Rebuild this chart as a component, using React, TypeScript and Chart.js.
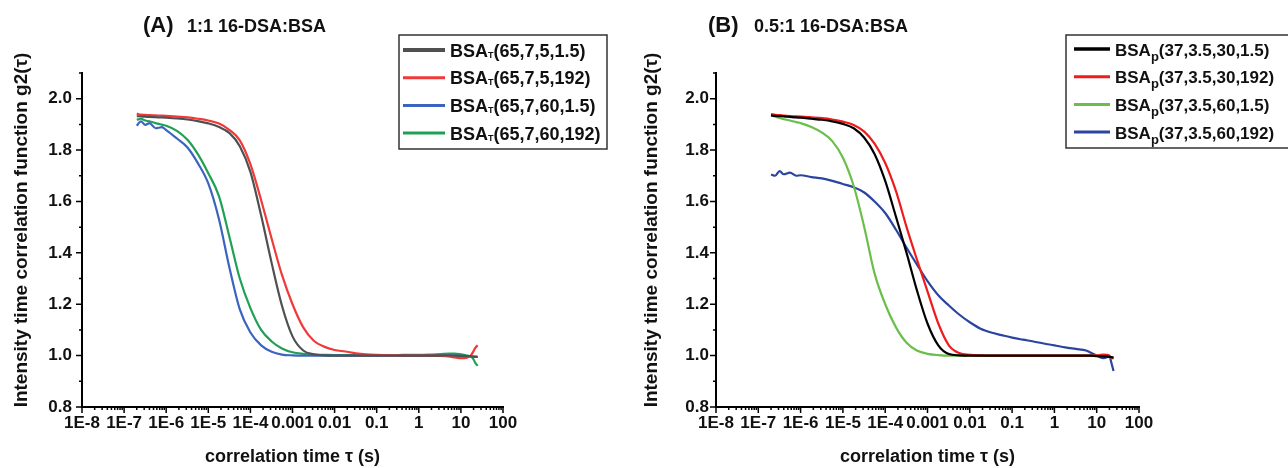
import React, { useEffect, useRef } from 'react';
import { Chart, registerables } from 'chart.js';

Chart.register(...registerables);

const FONT = '"Liberation Sans", Arial, Helvetica, sans-serif';

// correlation time τ (s) sample grid shared by all curves
const TAU = [
  2e-7, 2.5e-7, 3.2e-7, 4e-7, 5.6e-7, 7.9e-7, 1e-6, 1.8e-6, 3.2e-6, 5.6e-6,
  1e-5, 1.8e-5, 3.2e-5, 5.6e-5, 1e-4, 1.8e-4, 3.2e-4, 5.6e-4, 1e-3, 1.8e-3,
  3.2e-3, 5.6e-3, 0.01, 0.018, 0.032, 0.056, 0.1, 0.18, 0.32, 0.56,
  1, 1.8, 3.2, 5.6, 7.1, 10, 14, 18, 20, 22, 25,
];

// Panel A: 1:1 16-DSA:BSA
const A_LABELS = ['(65,7,5,1.5)', '(65,7,5,192)', '(65,7,60,1.5)', '(65,7,60,192)'];
const A_BLACK = [
  1.932, 1.931, 1.930, 1.929, 1.928, 1.927, 1.926, 1.923, 1.919, 1.913,
  1.904, 1.890, 1.866, 1.815, 1.715, 1.545, 1.360, 1.195, 1.075, 1.020,
  1.005, 1.001, 1.000, 1.000, 1.000, 1.000, 1.000, 1.000, 1.000, 1.000,
  1.000, 1.000, 1.000, 1.001, 1.000, 0.999, 0.998, 0.997, 0.996, 0.996, 0.995,
];
const A_RED = [
  1.942, 1.938, 1.937, 1.936, 1.935, 1.934, 1.933, 1.930, 1.927, 1.922,
  1.915, 1.903, 1.878, 1.838, 1.745, 1.605, 1.455, 1.315, 1.200, 1.110,
  1.058, 1.035, 1.022, 1.016, 1.009, 1.005, 1.003, 1.002, 1.001, 1.000,
  1.000, 1.000, 0.999, 0.996, 0.993, 0.990, 0.992, 1.005, 1.018, 1.030, 1.040,
];
const A_BLUE = [
  1.895, 1.912, 1.898, 1.905, 1.885, 1.889, 1.878, 1.845, 1.810, 1.750,
  1.670, 1.530, 1.340, 1.180, 1.090, 1.040, 1.015, 1.004, 1.001, 1.000,
  1.000, 1.000, 1.000, 1.000, 1.000, 1.000, 1.000, 1.000, 1.000, 1.000,
  1.000, 1.000, 1.000, 1.000, 1.000, 0.999, 0.998, 0.997, 0.996, 0.995, 0.995,
];
const A_GREEN = [
  1.918, 1.922, 1.915, 1.912, 1.905, 1.899, 1.895, 1.875, 1.840, 1.785,
  1.710, 1.620, 1.460, 1.300, 1.185, 1.100, 1.055, 1.028, 1.013, 1.007,
  1.004, 1.003, 1.002, 1.002, 1.002, 1.002, 1.002, 1.002, 1.002, 1.003,
  1.003, 1.004, 1.006, 1.008, 1.008, 1.005, 1.000, 0.995, 0.985, 0.972, 0.960,
];

// Panel B: 0.5:1 16-DSA:BSA
const B_LABELS = ['(37,3.5,30,1.5)', '(37,3.5,30,192)', '(37,3.5,60,1.5)', '(37,3.5,60,192)'];
const B_BLACK = [
  1.935, 1.933, 1.932, 1.931, 1.929, 1.927, 1.926, 1.922, 1.918, 1.912,
  1.902, 1.885, 1.848, 1.785, 1.680, 1.540, 1.400, 1.255, 1.125, 1.040,
  1.006, 1.001, 1.000, 1.000, 1.000, 1.000, 1.000, 1.000, 1.000, 1.000,
  1.000, 1.000, 1.000, 1.000, 1.000, 0.998, 0.997, 0.996, 0.995, 0.994, 0.993,
];
const B_RED = [
  1.940, 1.937, 1.936, 1.934, 1.932, 1.931, 1.930, 1.927, 1.924, 1.919,
  1.911, 1.898, 1.872, 1.825, 1.750, 1.640, 1.500, 1.375, 1.250, 1.125,
  1.040, 1.010, 1.003, 1.001, 1.000, 1.000, 1.000, 1.000, 1.000, 1.000,
  1.000, 1.000, 1.000, 1.000, 1.000, 1.001, 1.004, 1.003, 0.998, 0.993, 0.990,
];
const B_GREEN = [
  1.935, 1.930, 1.925, 1.920, 1.915, 1.909, 1.905, 1.890, 1.868, 1.835,
  1.770, 1.660, 1.500, 1.320, 1.200, 1.110, 1.050, 1.020, 1.007, 1.002,
  1.000, 1.000, 1.000, 1.000, 1.000, 1.000, 1.000, 1.000, 1.000, 1.000,
  1.000, 1.000, 1.000, 1.000, 1.000, 1.000, 1.000, 1.000, 0.998, 0.993, 0.988,
];
const B_BLUE = [
  1.705, 1.700, 1.718, 1.706, 1.712, 1.700, 1.702, 1.695, 1.690, 1.680,
  1.668, 1.655, 1.635, 1.600, 1.555, 1.490, 1.420, 1.355, 1.290, 1.235,
  1.195, 1.160, 1.130, 1.105, 1.090, 1.080, 1.070, 1.062, 1.055, 1.047,
  1.040, 1.032, 1.026, 1.020, 1.012, 1.000, 0.990, 0.995, 1.000, 0.975, 0.940,
];

// axes
const X_TICKS = [1e-8, 1e-7, 1e-6, 1e-5, 1e-4, 1e-3, 0.01, 0.1, 1, 10, 100];
const X_TICK_LABELS = ['1E-8', '1E-7', '1E-6', '1E-5', '1E-4', '0.001', '0.01', '0.1', '1', '10', '100'];
const X_MINOR_FACTORS = [2, 3, 4, 5, 6, 7, 8, 9];
const Y_TICKS = [0.8, 1.0, 1.2, 1.4, 1.6, 1.8, 2.0];
const Y_TICK_LABELS = ['0.8', '1.0', '1.2', '1.4', '1.6', '1.8', '2.0'];
const Y_MINOR = [0.9, 1.1, 1.3, 1.5, 1.7, 1.9, 2.1];

const X_TITLE = 'correlation time τ (s)';
const Y_TITLE = 'Intensity time correlation function g2(τ)';

type Series = { label: string; values: number[]; color: string; legendWidth: number };
type PanelCfg = {
  key: string;
  canvasLeft: number;
  canvasWidth: number;
  yScaleWidth: number;
  padRight: number;
  yTickPad: number;
  yTitleX: number;
  yTitleY: number;
  tag: string;
  tagX: number;
  subtitle: string;
  subtitleX: number;
  sub: string;
  legend: {
    x: number; y: number; w: number; h: number;
    firstRow: number; rowGap: number;
    lineX1: number; lineX2: number; textX: number;
    font: number; subFont: number; subDy: number; baseDy: number;
  };
  series: Series[];
};

const PANELS: PanelCfg[] = [
  {
    key: 'A',
    canvasLeft: 0,
    canvasWidth: 640,
    yScaleWidth: 82,
    padRight: 137,
    yTickPad: 10,
    yTitleX: 22,
    yTitleY: 230,
    tag: '(A)',
    tagX: 143,
    subtitle: '1:1 16-DSA:BSA',
    subtitleX: 187,
    sub: 'T',
    legend: {
      x: 399, y: 35, w: 208, h: 114, firstRow: 50, rowGap: 27.7,
      lineX1: 403, lineX2: 445, textX: 450, font: 18, subFont: 9, subDy: 1, baseDy: 6.5,
    },
    series: [
      { label: A_LABELS[0], values: A_BLACK, color: '#505050', legendWidth: 4 },
      { label: A_LABELS[1], values: A_RED, color: '#f03a3a', legendWidth: 3 },
      { label: A_LABELS[2], values: A_BLUE, color: '#3b64c0', legendWidth: 3 },
      { label: A_LABELS[3], values: A_GREEN, color: '#20a055', legendWidth: 3 },
    ],
  },
  {
    key: 'B',
    canvasLeft: 640,
    canvasWidth: 648,
    yScaleWidth: 76,
    padRight: 149,
    yTickPad: 7,
    yTitleX: 12,
    yTitleY: 230,
    tag: '(B)',
    tagX: 68,
    subtitle: '0.5:1 16-DSA:BSA',
    subtitleX: 114,
    sub: 'p',
    legend: {
      x: 426, y: 35, w: 300, h: 113, firstRow: 49, rowGap: 27.7,
      lineX1: 434, lineX2: 470, textX: 475, font: 17, subFont: 13, subDy: 5, baseDy: 6.5,
    },
    series: [
      { label: B_LABELS[0], values: B_BLACK, color: '#000000', legendWidth: 3.5 },
      { label: B_LABELS[1], values: B_RED, color: '#ee1c1c', legendWidth: 3 },
      { label: B_LABELS[2], values: B_GREEN, color: '#6abf4b', legendWidth: 3 },
      { label: B_LABELS[3], values: B_BLUE, color: '#2b44a0', legendWidth: 3 },
    ],
  },
];

function makeOverlay(cfg: PanelCfg) {
  return {
    id: 'overlay' + cfg.key,
    afterDraw(chart: any) {
      const ctx: CanvasRenderingContext2D = chart.ctx;
      const xs = chart.scales.x;
      const ys = chart.scales.y;
      const { bottom, left } = chart.chartArea;
      ctx.save();
      // tick marks
      ctx.strokeStyle = '#000';
      ctx.lineWidth = 1.5;
      ctx.beginPath();
      X_TICKS.forEach((v, i) => {
        const p = xs.getPixelForValue(v);
        ctx.moveTo(p, bottom);
        ctx.lineTo(p, bottom + 6);
        if (i < X_TICKS.length - 1) {
          X_MINOR_FACTORS.forEach((m) => {
            const q = xs.getPixelForValue(v * m);
            ctx.moveTo(q, bottom);
            ctx.lineTo(q, bottom + 3);
          });
        }
      });
      Y_TICKS.forEach((v) => {
        const p = ys.getPixelForValue(v);
        ctx.moveTo(left, p);
        ctx.lineTo(left - 6, p);
      });
      Y_MINOR.forEach((v) => {
        const p = ys.getPixelForValue(v);
        ctx.moveTo(left, p);
        ctx.lineTo(left - 3, p);
      });
      ctx.stroke();

      // y-axis title (rotated)
      ctx.save();
      ctx.translate(cfg.yTitleX, cfg.yTitleY);
      ctx.rotate(-Math.PI / 2);
      ctx.fillStyle = '#111';
      ctx.textAlign = 'center';
      ctx.textBaseline = 'middle';
      ctx.font = `bold 19px ${FONT}`;
      ctx.fillText(Y_TITLE, 0, 0);
      ctx.restore();

      // panel title
      ctx.fillStyle = '#111';
      ctx.textAlign = 'left';
      ctx.textBaseline = 'alphabetic';
      ctx.font = `bold 22px ${FONT}`;
      ctx.fillText(cfg.tag, cfg.tagX, 32);
      ctx.font = `bold 18px ${FONT}`;
      ctx.fillText(cfg.subtitle, cfg.subtitleX, 32);

      // legend
      const L = cfg.legend;
      ctx.strokeStyle = '#333';
      ctx.lineWidth = 1.5;
      ctx.strokeRect(L.x, L.y, L.w, L.h);
      cfg.series.forEach((s, i) => {
        const y = L.firstRow + i * L.rowGap;
        ctx.strokeStyle = s.color;
        ctx.lineWidth = s.legendWidth;
        ctx.beginPath();
        ctx.moveTo(L.lineX1, y);
        ctx.lineTo(L.lineX2, y);
        ctx.stroke();
        const base = y + L.baseDy;
        let x = L.textX;
        ctx.fillStyle = '#111';
        ctx.font = `bold ${L.font}px ${FONT}`;
        ctx.fillText('BSA', x, base);
        x += ctx.measureText('BSA').width;
        ctx.font = `bold ${L.subFont}px ${FONT}`;
        ctx.fillText(cfg.sub, x, base + L.subDy);
        x += ctx.measureText(cfg.sub).width;
        ctx.font = `bold ${L.font}px ${FONT}`;
        ctx.fillText(s.label, x, base);
      });
      ctx.restore();
    },
  };
}

function buildConfig(cfg: PanelCfg): any {
  return {
    type: 'line',
    data: {
      datasets: cfg.series.map((s) => ({
        label: 'BSA' + cfg.sub + s.label,
        data: TAU.map((t, i) => ({ x: t, y: s.values[i] })),
        borderColor: s.color,
        backgroundColor: s.color,
        borderWidth: 2.2,
        pointRadius: 0,
        cubicInterpolationMode: 'monotone',
        fill: false,
      })),
    },
    options: {
      responsive: false,
      animation: false,
      devicePixelRatio: 1,
      layout: { padding: { left: 0, top: 73, right: cfg.padRight, bottom: 0 } },
      plugins: {
        legend: { display: false },
        tooltip: { enabled: false },
        title: { display: false },
      },
      scales: {
        x: {
          type: 'logarithmic',
          position: 'bottom',
          min: 1e-8,
          max: 100,
          grid: { display: false, drawTicks: false },
          border: { display: true, color: '#000', width: 2 },
          afterBuildTicks: (s: any) => {
            s.ticks = X_TICKS.map((v) => ({ value: v }));
          },
          afterFit: (s: any) => {
            s.height = 61;
          },
          ticks: {
            autoSkip: false,
            maxRotation: 0,
            minRotation: 0,
            padding: 6,
            color: '#111',
            font: { family: FONT, size: 17, weight: 'bold' },
            callback: (_v: any, i: number) => X_TICK_LABELS[i],
          },
          title: {
            display: true,
            text: X_TITLE,
            color: '#111',
            font: { family: FONT, size: 18, weight: 'bold' },
            padding: { top: 0, bottom: 0 },
          },
        },
        y: {
          type: 'linear',
          position: 'left',
          min: 0.8,
          max: 2.1,
          grid: { display: false, drawTicks: false },
          border: { display: true, color: '#000', width: 2 },
          afterBuildTicks: (s: any) => {
            s.ticks = Y_TICKS.map((v) => ({ value: v }));
          },
          afterFit: (s: any) => {
            s.width = cfg.yScaleWidth;
          },
          ticks: {
            padding: cfg.yTickPad,
            color: '#111',
            font: { family: FONT, size: 17, weight: 'bold' },
            callback: (_v: any, i: number) => Y_TICK_LABELS[i],
          },
          title: { display: false },
        },
      },
    },
    plugins: [makeOverlay(cfg)],
  };
}

function Panel({ cfg }: { cfg: PanelCfg }) {
  const ref = useRef<HTMLCanvasElement>(null);
  useEffect(() => {
    if (!ref.current) return;
    const chart = new Chart(ref.current, buildConfig(cfg));
    return () => chart.destroy();
  }, [cfg]);
  return (
    <canvas
      ref={ref}
      width={cfg.canvasWidth}
      height={468}
      style={{ position: 'absolute', left: cfg.canvasLeft, top: 0, width: cfg.canvasWidth, height: 468 }}
    />
  );
}

export default function App() {
  return (
    <div
      style={{
        position: 'fixed',
        left: 0,
        top: 0,
        width: 1288,
        height: 468,
        background: '#ffffff',
        overflow: 'hidden',
      }}
    >
      {PANELS.map((p) => (
        <Panel key={p.key} cfg={p} />
      ))}
    </div>
  );
}
